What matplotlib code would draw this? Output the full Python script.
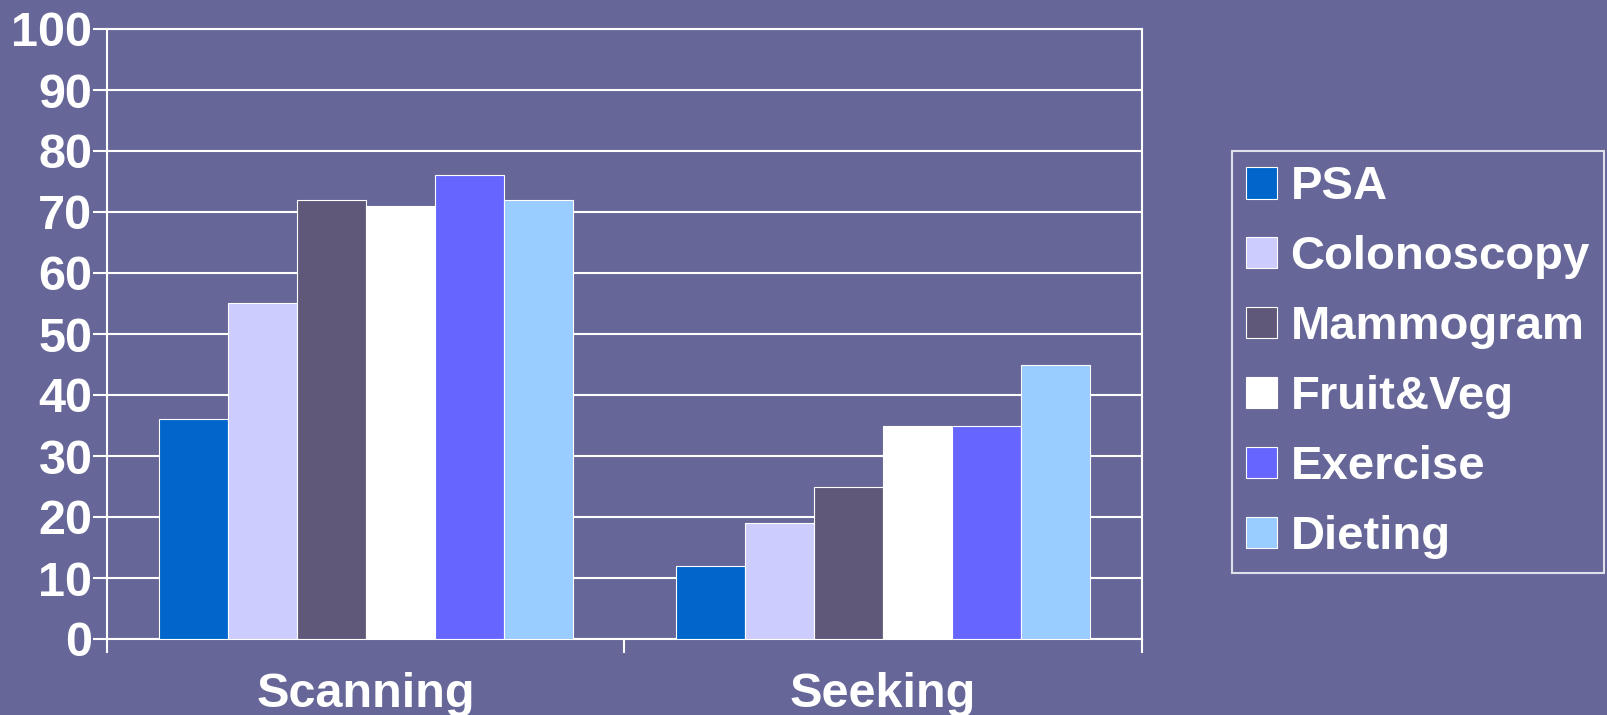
import matplotlib
matplotlib.use('Agg')
import numpy as np
import matplotlib.pyplot as plt

# 数据
categories = ['Scanning', 'Seeking']
series = ['PSA', 'Colonoscopy', 'Mammogram', 'Fruit&Veg', 'Exercise', 'Dieting']
scanning = [36, 55, 72, 71, 76, 72]
seeking = [12, 19, 25, 35, 35, 45]
colors = ['#0066CC', '#CCCCFF', '#605878', '#FFFFFF', '#6666FF', '#99CCFF']

bg = '#666699'
plt.rcParams['font.family'] = ['Liberation Sans', 'DejaVu Sans']
plt.rcParams['font.weight'] = 'bold'

fig = plt.figure(figsize=(16.08, 7.15), dpi=100, facecolor=bg)
ax = fig.add_axes([107 / 1608, 76 / 715, 1035 / 1608, 610 / 715])
ax.set_facecolor(bg)

x = np.arange(len(categories))
width = 0.8 / len(series)
values = np.array([scanning, seeking]).T
for i, name in enumerate(series):
    ax.bar(x - 0.4 + width * (i + 0.5), values[i], width, color=colors[i],
           edgecolor='white', linewidth=0.8, label=name, zorder=3)

ax.set_xlim(-0.5, 1.5)
ax.set_ylim(0, 100)
ax.set_yticks(range(0, 101, 10))
ax.yaxis.grid(True, color='white', linewidth=1.5, zorder=0)
ax.set_axisbelow(True)

# 类别分隔刻度 + 类别标签
ax.set_xticks([-0.5, 0.5, 1.5])
ax.set_xticklabels([])
ax.set_xticks(x, minor=True)
ax.set_xticklabels(categories, minor=True)
ax.tick_params(axis='x', which='major', direction='out', length=10, color='white', width=1.5)
ax.tick_params(axis='x', which='minor', length=0, pad=24, labelsize=35, labelcolor='white')
ax.tick_params(axis='y', direction='out', length=10, color='white', width=1.5,
               labelsize=35, labelcolor='white', pad=0.5)

for s in ax.spines.values():
    s.set_color('white')
    s.set_linewidth(1.5)

leg = fig.legend(loc='upper left', bbox_to_anchor=(1232 / 1608, 1 - 151 / 715),
                 borderaxespad=0, fontsize=34, frameon=True, fancybox=False,
                 handlelength=0.66, handleheight=0.66, handletextpad=0.28,
                 borderpad=0.3, labelspacing=0.55)
leg.get_frame().set_facecolor(bg)
leg.get_frame().set_edgecolor('white')
leg.get_frame().set_linewidth(1.5)
for t in leg.get_texts():
    t.set_color('white')

plt.savefig('out.png', facecolor=bg)
